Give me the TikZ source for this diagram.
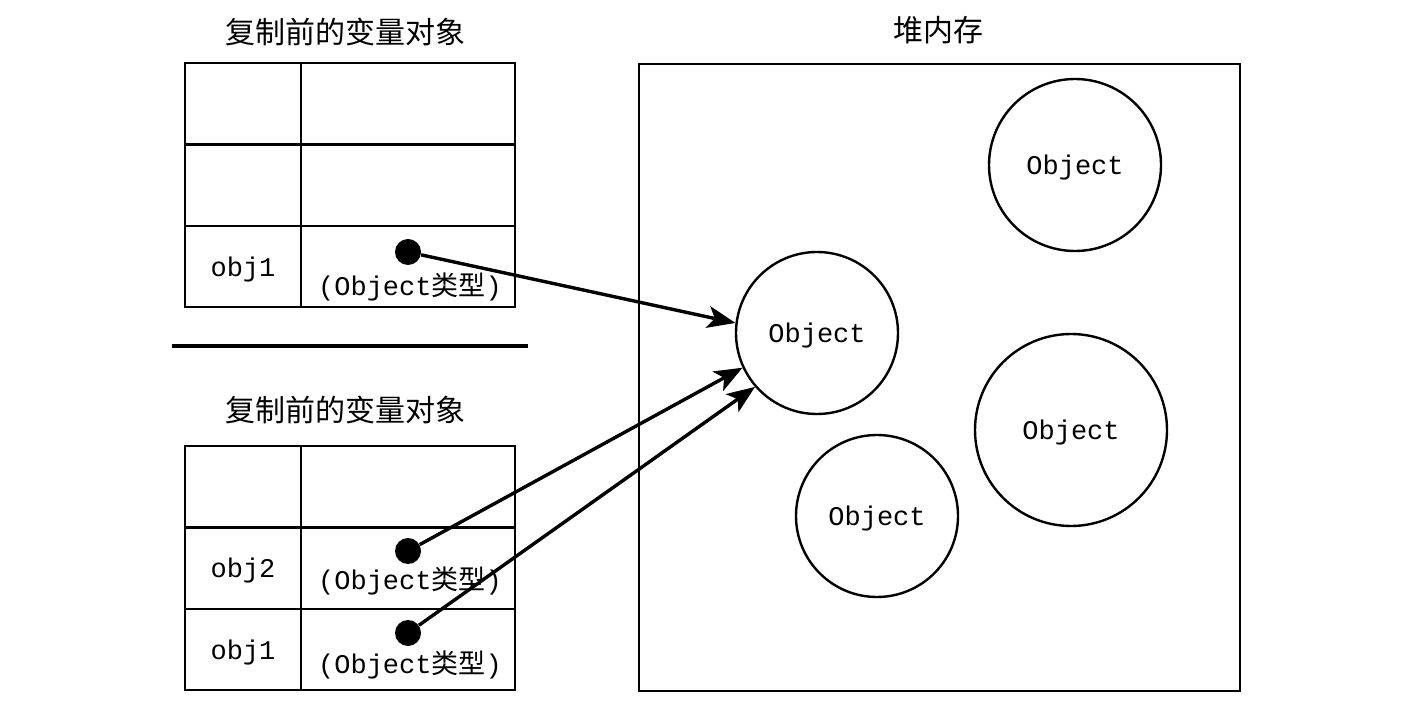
\documentclass[tikz,border=0pt]{standalone}
\usepackage{fontspec}
\setmonofont{Liberation Mono}
\newfontfamily\cjk{Noto Sans CJK SC}
\usepackage{tikz}
\usetikzlibrary{positioning,arrows.meta}

\newcommand{\objtype}{{\ttfamily(Object}{\cjk 类型}{\ttfamily)}}

\begin{document}
\begin{tikzpicture}[
  x=0.5pt, y=-0.5pt,
  node distance=0pt,
  namecell/.style={draw, line width=1.2pt, minimum width=58pt, minimum height=40.7pt, text depth=0pt, inner sep=0pt, outer sep=0pt, font=\ttfamily\fontsize{13.5}{14}\selectfont},
  valcell/.style={namecell, minimum width=107pt},
  heapobj/.style={draw, circle, line width=1.2pt, inner sep=0pt, text depth=0pt, font=\ttfamily\fontsize{13.5}{14}\selectfont},
  refdot/.style={circle, fill=black, minimum size=13pt, inner sep=0pt},
  typelbl/.style={font=\fontsize{13.5}{14}\selectfont, inner sep=0pt},
  title/.style={font=\cjk\fontsize{15}{16}\selectfont},
  pointer/.style={line width=1.7pt, -{Stealth[length=14pt, width=11pt, inset=3.5pt]}}
]
\useasboundingbox (0,0) rectangle (1402,710);

% variables before copy
\node[title] (ttop) at (345,32) {复制前的变量对象};
\node[namecell, anchor=north west] (a1) at (185,63) {};
\node[namecell, below=of a1] (a2) {};
\node[namecell, below=of a2] (a3) {obj1};
\node[valcell, right=of a1] (av1) {};
\node[valcell, right=of a2] (av2) {};
\node[valcell, right=of a3] (av3) {};
\node[refdot] (ad3) at (408,252) {};
\node[typelbl] (at3) at (410,287) {\objtype};

\draw[line width=2pt] (172,346) -- (528,346);

% variables after copy
\node[title] (tbot) at (345,410) {复制前的变量对象};
\node[namecell, anchor=north west] (b1) at (185,446) {};
\node[namecell, below=of b1] (b2) {obj2};
\node[namecell, below=of b2] (b3) {obj1};
\node[valcell, right=of b1] (bv1) {};
\node[valcell, right=of b2] (bv2) {};
\node[valcell, right=of b3] (bv3) {};
\node[refdot] (bd2) at (408,551) {};
\node[typelbl] (bt2) at (410,581) {\objtype};
\node[refdot] (bd3) at (408,633) {};
\node[typelbl] (bt3) at (410,665) {\objtype};

% heap
\node[title] (theap) at (938,30) {堆内存};
\node[draw, line width=1.2pt, minimum width=300.5pt, minimum height=313.5pt, anchor=north west, inner sep=0pt] (heap) at (638,63) {};
\node[heapobj, minimum size=81pt] (o1) at (817,333) {Object};
\node[heapobj, minimum size=86pt] (o2) at (1075,165) {Object};
\node[heapobj, minimum size=96pt] (o3) at (1071,430) {Object};
\node[heapobj, minimum size=81pt] (o4) at (877,516) {Object};

\draw[pointer] (ad3) -- (o1.173);
\draw[pointer] (bd2) -- (o1.205);
\draw[pointer] (bd3) -- (o1.221);
\end{tikzpicture}
\end{document}
